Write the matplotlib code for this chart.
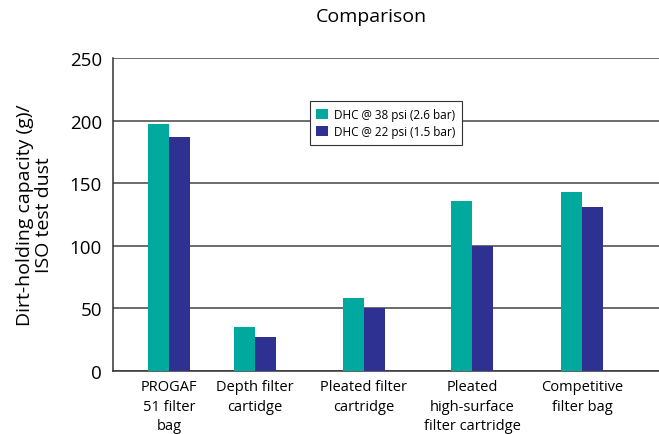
import matplotlib.pyplot as plt
import numpy as np

categories = [
    "PROGAF\n51 filter\nbag",
    "Depth filter\ncartidge",
    "Pleated filter\ncartridge",
    "Pleated\nhigh-surface\nfilter cartridge",
    "Competitive\nfilter bag",
]
dhc_38psi = [197, 35, 58, 136, 143]
dhc_22psi = [187, 27, 50, 100, 131]
series_labels = ["DHC @ 38 psi (2.6 bar)", "DHC @ 22 psi (1.5 bar)"]
y_ticks = [0, 50, 100, 150, 200, 250]

# layout: group centres in axes pixel units (groups are not evenly spaced)
GROUP_X = np.array([56, 142, 251, 359, 469])
BAR_W = 21
TEAL = "#00A99D"
NAVY = "#2E3192"

plt.rcParams["font.family"] = ["Open Sans", "DejaVu Sans"]

fig = plt.figure(figsize=(6.59, 4.35), dpi=100)
ax = fig.add_axes([113 / 659, 1 - 372 / 435, 546 / 659, 313 / 435])

ax.bar(GROUP_X - BAR_W / 2, dhc_38psi, BAR_W, color=TEAL, label=series_labels[0], zorder=3)
ax.bar(GROUP_X + BAR_W / 2, dhc_22psi, BAR_W, color=NAVY, label=series_labels[1], zorder=3)

ax.set_xlim(0, 546)
ax.set_ylim(0, 250)
ax.set_yticks(y_ticks)
ax.set_xticks(GROUP_X)
ax.set_xticklabels(categories, fontsize=10.5, linespacing=1.4, va="top")
ax.tick_params(axis="both", length=0)
ax.tick_params(axis="x", pad=6)
ax.tick_params(axis="y", labelsize=13.5, pad=8)

ax.yaxis.grid(True, color="#444444", linewidth=1.1, zorder=0)
ax.set_axisbelow(True)
for side in ["top", "right"]:
    ax.spines[side].set_visible(False)
for side in ["left", "bottom"]:
    ax.spines[side].set_color("#333333")
    ax.spines[side].set_linewidth(1.1)

ax.set_ylabel("Dirt-holding capacity (g)/\nISO test dust", fontsize=14, labelpad=12, linespacing=1.05)
fig.text(371 / 659, 1 - 17 / 435, "Comparison", ha="center", va="center", fontsize=14)

leg = ax.legend(
    loc="upper left",
    bbox_to_anchor=(0.35, 0.88),
    fontsize=8.5,
    handlelength=1.0,
    handleheight=1.0,
    handletextpad=0.5,
    borderpad=0.55,
    labelspacing=0.35,
    fancybox=False,
    framealpha=1,
    edgecolor="#333333",
)
leg.get_frame().set_linewidth(0.8)

fig.savefig("out.png", dpi=100)
